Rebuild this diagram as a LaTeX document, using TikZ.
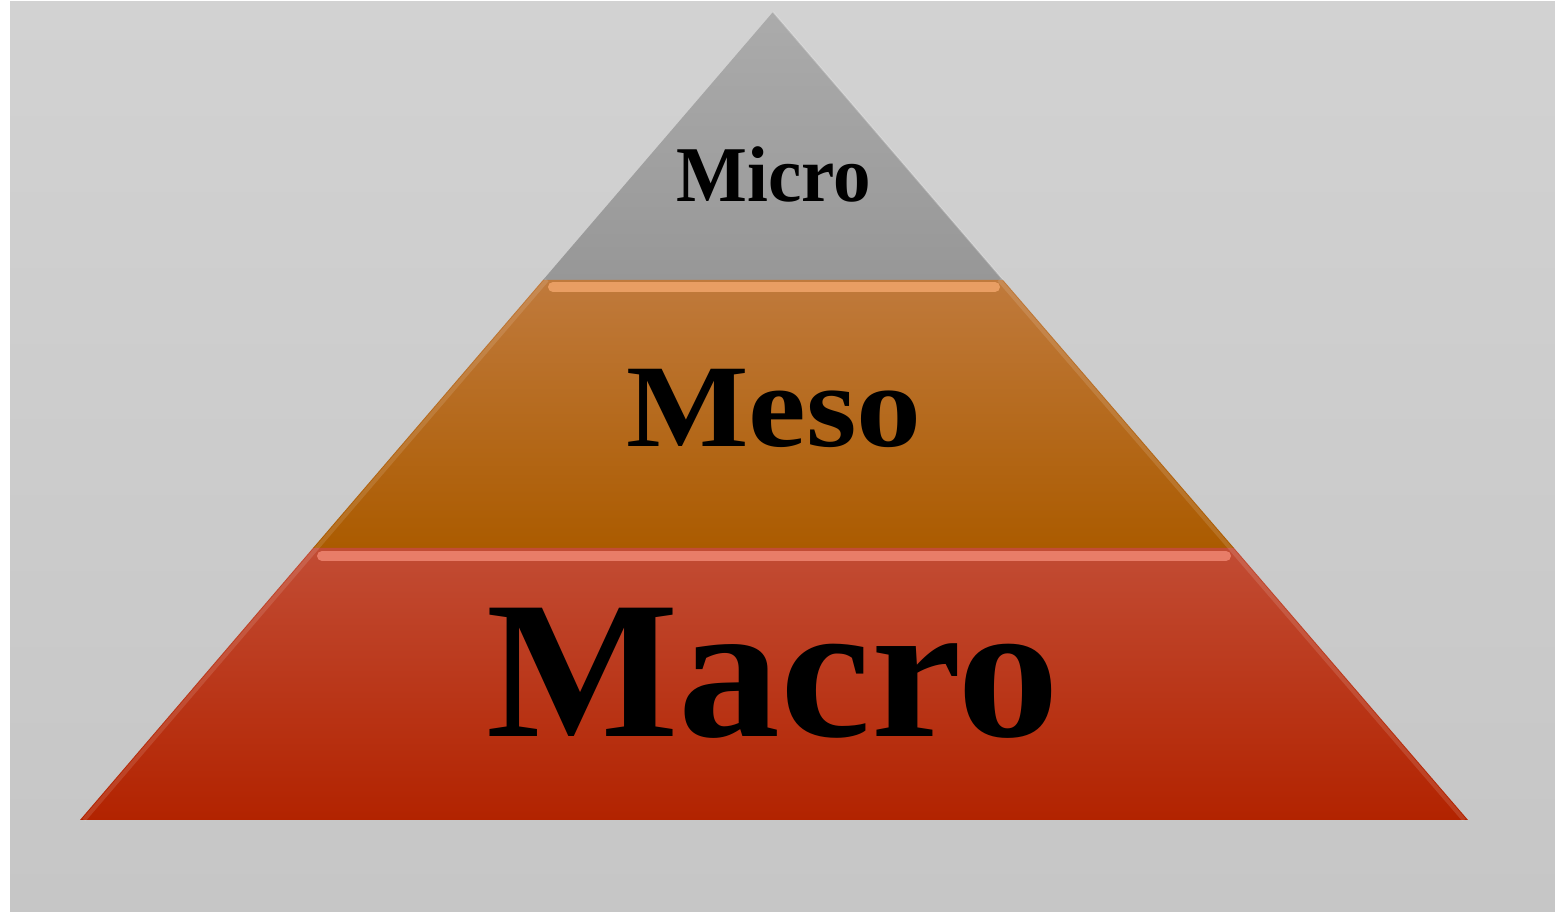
\documentclass[tikz,border=0pt]{standalone}
\usepackage{fontspec}
\setmainfont{Liberation Serif}
\usetikzlibrary{positioning}
\definecolor{bgtop}{HTML}{D2D2D2}
\definecolor{bgbot}{HTML}{C6C6C6}
\definecolor{grtop}{HTML}{ABABAB}
\definecolor{grbot}{HTML}{979797}
\definecolor{ortop}{HTML}{C07A3C}
\definecolor{ormid}{HTML}{B86600}
\definecolor{orbot}{HTML}{AB5B00}
\definecolor{orhi}{HTML}{F4A86E}
\definecolor{rdtop}{HTML}{C24C34}
\definecolor{rdmid}{HTML}{BE2B00}
\definecolor{rdbot}{HTML}{B22300}
\definecolor{rdhi}{HTML}{F28A76}
\begin{document}
\begin{tikzpicture}[x=1pt,y=1pt,
every node/.style={font=\bfseries, inner sep=0pt, anchor=base},
hibar/.style={line width=10pt, line cap=round, opacity=0.8},
bevel/.style={line width=4pt, white, opacity=0.12}]
\useasboundingbox (0,0) rectangle (1555,912);
\shade[top color=bgtop, bottom color=bgbot] (10,0) rectangle (1555,910);
\coordinate (apex) at (773,900);
\coordinate (l1) at (543,632); \coordinate (r1) at (1003,632);
\coordinate (l2) at (313,364); \coordinate (r2) at (1234,364);
\coordinate (l3) at (80,92);  \coordinate (r3) at (1468,92);
\shade[top color=grtop, bottom color=grbot] (apex) -- (r1) -- (l1) -- cycle;
\shade[top color=ortop, middle color=ormid, bottom color=orbot] (l1) -- (r1) -- (r2) -- (l2) -- cycle;
\shade[top color=rdtop, middle color=rdmid, bottom color=rdbot] (l2) -- (r2) -- (r3) -- (l3) -- cycle;
\draw[bevel] ([xshift=4pt]l1) -- ([xshift=4pt]l2);
\draw[bevel] ([xshift=-4pt]r1) -- ([xshift=-4pt]r2);
\draw[bevel] ([xshift=4pt]l2) -- ([xshift=4pt]l3);
\draw[bevel] ([xshift=-4pt]r2) -- ([xshift=-4pt]r3);
\draw[hibar, orhi] (553,625) -- (995,625);
\draw[hibar, rdhi] (322,356) -- (1226,356);
\draw[white, opacity=0.25, line width=1.5pt] (apex) -- (r1);
\node[font=\bfseries\fontsize{79}{79}\selectfont, xscale=0.95] (micro) at (774,710) {Micro};
\node[font=\bfseries\fontsize{118}{118}\selectfont, xscale=1.1] (meso) at (774,465) {Meso};
\node[font=\bfseries\fontsize{196}{196}\selectfont, xscale=1.04] (macro) at (773,175) {Macro};
\end{tikzpicture}
\end{document}
